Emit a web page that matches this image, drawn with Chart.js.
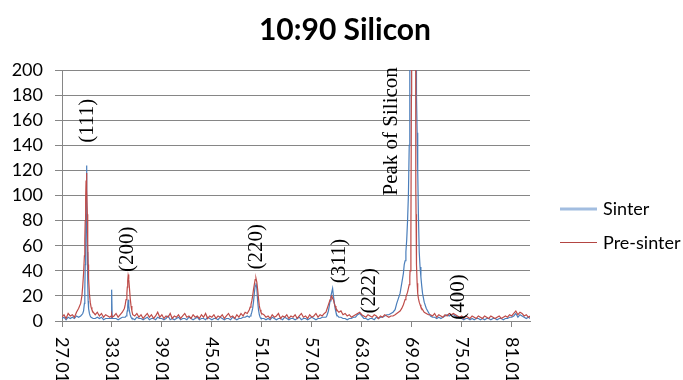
<!DOCTYPE html>
<html lang="en">
<head>
  <meta charset="UTF-8">
  <title>10:90 Silicon</title>
  <script src="https://cdn.jsdelivr.net/npm/chart.js"></script>
  <style>
    body { margin: 0; background: #fff; }
  </style>
</head>
<body>

  <canvas id="myChart" width="683" height="380"></canvas>

  <script>
    // 2-theta positions (one line per region of the scan)
    const angles = [
      27.00, 27.25, 27.50, 27.75, 28.00, 28.25, 28.50, 28.75, 29.00, 29.25,
      29.40, 29.50, 29.60, 29.70, 29.75, 29.80, 29.85, 29.90, 29.95, 30.00, 30.05, 30.10, 30.15, 30.20, 30.30, 30.40, 30.50, 30.60, 30.75,
      31.00, 31.25, 31.50, 31.75, 32.00, 32.25, 32.50, 32.75,
      32.90, 32.97, 33.04,
      33.25, 33.50, 33.75, 34.00, 34.25, 34.50,
      34.60, 34.70, 34.80, 34.85, 34.90, 34.95, 35.00, 35.05, 35.10, 35.20, 35.30, 35.40,
      35.50, 35.75, 36.00, 36.25, 36.50, 36.75, 37.00, 37.25, 37.50, 37.75, 38.00, 38.25, 38.50, 38.75, 39.00, 39.25, 39.50, 39.75, 40.00, 40.25,
      40.50, 40.75, 41.00, 41.25, 41.50, 41.75, 42.00, 42.25, 42.50, 42.75, 43.00, 43.25, 43.50, 43.75, 44.00, 44.25, 44.50, 44.75, 45.00, 45.25,
      45.50, 45.75, 46.00, 46.25, 46.50, 46.75, 47.00, 47.25, 47.50, 47.75, 48.00, 48.25, 48.50, 48.75, 49.00, 49.25,
      49.50, 49.60, 49.70, 49.80, 49.90, 50.00, 50.10, 50.20, 50.30, 50.40, 50.50, 50.60, 50.70, 50.80, 50.90, 51.00,
      51.25, 51.50, 51.75, 52.00, 52.25, 52.50, 52.75, 53.00, 53.25, 53.50, 53.75, 54.00, 54.25, 54.50, 54.75,
      55.00, 55.25, 55.50, 55.75, 56.00, 56.25, 56.50, 56.75, 57.00, 57.25, 57.50, 57.75, 58.00, 58.25, 58.50,
      58.70, 58.80, 58.90, 59.00, 59.10, 59.20, 59.30, 59.40, 59.50, 59.60, 59.70, 59.80, 59.90, 60.00, 60.10, 60.25,
      60.50, 60.75, 61.00, 61.25, 61.50, 61.75, 62.00, 62.25, 62.50, 62.75, 63.00, 63.25, 63.50,
      63.75, 64.00, 64.25, 64.50, 64.75, 65.00, 65.25, 65.50, 65.75, 66.00, 66.25, 66.50,
      66.75, 67.00, 67.20, 67.40, 67.60, 67.80, 68.00, 68.10, 68.20, 68.30, 68.40, 68.50, 68.60, 68.70, 68.76, 68.78, 68.80, 68.90, 68.96, 68.98,
      69.00, 69.20, 69.40, 69.48, 69.50, 69.52, 69.56, 69.58, 69.65, 69.72, 69.80, 69.90, 70.00, 70.10, 70.20, 70.30, 70.50, 70.75, 71.00,
      71.25, 71.50, 71.75, 72.00, 72.25, 72.50, 72.75, 73.00, 73.25, 73.50, 73.75, 74.00, 74.25, 74.50, 74.75, 75.00, 75.25, 75.50, 75.75, 76.00,
      76.25, 76.50, 76.75, 77.00, 77.25, 77.50, 77.75, 78.00, 78.25, 78.50, 78.75, 79.00, 79.25, 79.50, 79.75, 80.00, 80.25, 80.50, 80.75, 81.00,
      81.25, 81.50, 81.75, 82.00, 82.25, 82.50, 82.75, 83.00, 83.25
    ];

    const sinter = [
      2, 3, 1, 3, 2, 3, 2, 4, 3, 4,
      5, 6, 8, 14, 25, 45, 56, 85, 124, 95, 55, 30, 16, 10, 6, 4, 3, 3, 2,
      2, 3, 2, 3, 1, 2, 2, 2,
      2, 25, 2,
      2, 2, 1, 2, 3, 3,
      3, 4, 6, 8, 12, 17, 15, 12, 8, 5, 3, 2,
      2, 1, 3, 2, 2, 1, 2, 3, 1, 2, 2, 1, 3, 2, 2, 1, 2, 4, 1, 2,
      1, 2, 3, 1, 2, 2, 1, 3, 2, 1, 2, 3, 1, 2, 2, 1, 3, 2, 1, 2,
      2, 1, 3, 2, 1, 2, 2, 1, 3, 2, 1, 2, 2, 3, 3, 4,
      3, 4, 5, 7, 10, 15, 22, 28, 30, 26, 16, 9, 5, 3, 2, 2,
      2, 1, 2, 1, 3, 2, 1, 2, 2, 1, 3, 2, 1, 2, 2,
      1, 2, 3, 1, 2, 2, 1, 2, 3, 2, 1, 2, 2, 3, 3,
      3, 4, 6, 8, 12, 16, 20, 23, 26, 20, 15, 10, 7, 5, 4, 3,
      3, 2, 2, 1, 2, 2, 3, 3, 5, 6, 4, 2, 2,
      1, 2, 2, 1, 3, 2, 3, 3, 4, 5, 5, 6,
      7, 9, 14, 18, 22, 30, 38, 45, 48, 55, 65, 80, 100, 140, 180, 600, 800, 900, 950, 950,
      950, 1000, 950, 900, 850, 800, 600, 180, 150, 120, 85, 55, 43, 35, 28, 22, 15, 10, 7,
      4, 3, 3, 2, 3, 2, 3, 4, 5, 4, 5, 5, 4, 3, 2, 2, 1, 2, 2, 1,
      2, 1, 2, 2, 1, 2, 1, 2, 2, 1, 2, 2, 1, 2, 2, 1, 2, 2, 3, 3,
      4, 6, 3, 5, 4, 3, 2, 3, 2
    ];

    const preSinter = [
      3, 5, 2, 6, 4, 5, 3, 7, 10, 14,
      20, 28, 38, 52, 65, 80, 98, 112, 118, 105, 85, 62, 45, 34, 22, 15, 11, 9, 7,
      5, 7, 4, 6, 3, 5, 4, 3,
      4, 5, 3,
      4, 6, 3, 5, 7, 10,
      13, 17, 22, 27, 32, 36, 37, 33, 27, 18, 12, 8,
      5, 4, 6, 3, 5, 2, 4, 6, 3, 5, 2, 4, 7, 3, 5, 2, 4, 3, 6, 2,
      4, 3, 5, 2, 4, 6, 3, 4, 2, 5, 3, 4, 2, 5, 3, 6, 2, 4, 3, 5,
      2, 4, 3, 5, 2, 4, 6, 3, 4, 2, 5, 3, 6, 4, 7, 6,
      9, 11, 13, 16, 20, 25, 29, 33, 34, 31, 25, 18, 12, 9, 7, 6,
      5, 3, 4, 2, 5, 3, 4, 6, 2, 4, 3, 5, 2, 4, 3,
      5, 2, 4, 6, 3, 4, 2, 5, 3, 4, 6, 3, 5, 4, 6,
      7, 9, 11, 13, 15, 17, 19, 20, 18, 17, 14, 12, 10, 9, 8, 7,
      8, 5, 6, 4, 5, 3, 4, 5, 6, 7, 5, 4, 3,
      5, 4, 3, 5, 4, 2, 4, 3, 5, 4, 3, 4,
      4, 5, 6, 7, 8, 10, 13, 15, 17, 19, 21, 23, 26, 29, 32, 35, 40, 70, 180, 700,
      800, 900, 800, 600, 106, 85, 60, 45, 30, 22, 18, 15, 13, 11, 10, 9, 7, 6, 5,
      5, 4, 6, 3, 5, 4, 3, 5, 4, 6, 5, 6, 5, 4, 3, 4, 2, 4, 3, 2,
      4, 3, 2, 4, 3, 2, 4, 3, 2, 4, 3, 2, 3, 4, 2, 3, 4, 3, 5, 4,
      6, 8, 5, 7, 6, 4, 5, 3, 4
    ];

    const tickLabels = ['27.01', '33.01', '39.01', '45.01', '51.01', '57.01', '63.01', '69.01', '75.01', '81.01'];
    const peakNames = ['(111)', '(200)', '(220)', '(311)', '(222)', 'Peak of Silicon', '(400)'];

    // where the rotated peak names sit (angle, value at the start of the text)
    const notes = [
      { a: 30.01, v: 142 },
      { a: 34.93, v: 39 },
      { a: 50.41, v: 41 },
      { a: 60.37, v: 30 },
      { a: 63.97, v: 6 },
      { a: 66.61, v: 100 },
      { a: 74.65, v: 1 }
    ];

    const blue = '#4a7ebb';
    const red = '#be4b48';
    const gray = '#868686';

    const extras = {
      id: 'extras',
      afterDraw(chart) {
        const ctx = chart.ctx;
        const xs = chart.scales.x;
        const ys = chart.scales.y;
        ctx.save();
        ctx.fillStyle = '#000';

        ctx.font = 'bold 30px Lato';
        ctx.textAlign = 'center';
        ctx.textBaseline = 'alphabetic';
        ctx.fillText('10:90 Silicon', 345, 40);

        // x labels read top to bottom
        ctx.font = '18px Lato';
        ctx.textAlign = 'left';
        ctx.textBaseline = 'middle';
        tickLabels.forEach(t => {
          ctx.save();
          ctx.translate(xs.getPixelForValue(parseFloat(t)), ys.bottom + 16);
          ctx.rotate(Math.PI / 2);
          ctx.fillText(t, 0, 0);
          ctx.restore();
        });

        ctx.font = '21px "Liberation Serif"';
        peakNames.forEach((name, i) => {
          ctx.save();
          ctx.translate(xs.getPixelForValue(notes[i].a), ys.getPixelForValue(notes[i].v));
          ctx.rotate(-Math.PI / 2);
          ctx.fillText(name, 0, 0);
          ctx.restore();
        });

        // legend
        ctx.font = '18px Lato';
        ctx.strokeStyle = '#a2bde0';
        ctx.lineWidth = 3;
        ctx.beginPath();
        ctx.moveTo(560, 209);
        ctx.lineTo(597, 209);
        ctx.stroke();
        ctx.fillText('Sinter', 603, 209);
        ctx.strokeStyle = '#b34542';
        ctx.lineWidth = 1;
        ctx.beginPath();
        ctx.moveTo(560, 242.5);
        ctx.lineTo(597, 242.5);
        ctx.stroke();
        ctx.fillText('Pre-sinter', 603, 243);

        ctx.restore();
      }
    };

    const data = {
      datasets: [{
        label: 'Sinter',
        data: angles.map((a, i) => ({ x: a, y: sinter[i] })),
        borderColor: blue,
        borderWidth: 1.2,
        order: 1
      }, {
        label: 'Pre-sinter',
        data: angles.map((a, i) => ({ x: a, y: preSinter[i] })),
        borderColor: red,
        borderWidth: 1.2,
        order: 0
      }]
    };

    const config = {
      type: 'line',
      data: data,
      options: {
        responsive: false,
        animation: false,
        events: [],
        layout: { padding: { top: 70, right: 153, left: 0, bottom: 0 } },
        elements: { point: { radius: 0 }, line: { tension: 0 } },
        plugins: {
          legend: { display: false },
          tooltip: { enabled: false }
        },
        scales: {
          x: {
            type: 'linear',
            min: 27.01,
            max: 83.2,
            afterBuildTicks: s => { s.ticks = tickLabels.map(t => ({ value: parseFloat(t) })); },
            afterFit: s => { s.height = 59; },
            ticks: { display: false },
            grid: { drawOnChartArea: false, drawTicks: true, tickLength: 6, color: gray },
            border: { display: true, color: gray }
          },
          y: {
            min: 0,
            max: 200,
            afterFit: s => { s.width = 62; },
            ticks: { stepSize: 20, padding: 12, color: '#000', font: { family: 'Lato', size: 18 } },
            grid: { color: gray, tickLength: 7 },
            border: { display: true, color: gray }
          }
        }
      },
      plugins: [extras]
    };

    const ctx = document.getElementById('myChart').getContext('2d');
    const myChart = new Chart(ctx, config);
  </script>

</body>
</html>
